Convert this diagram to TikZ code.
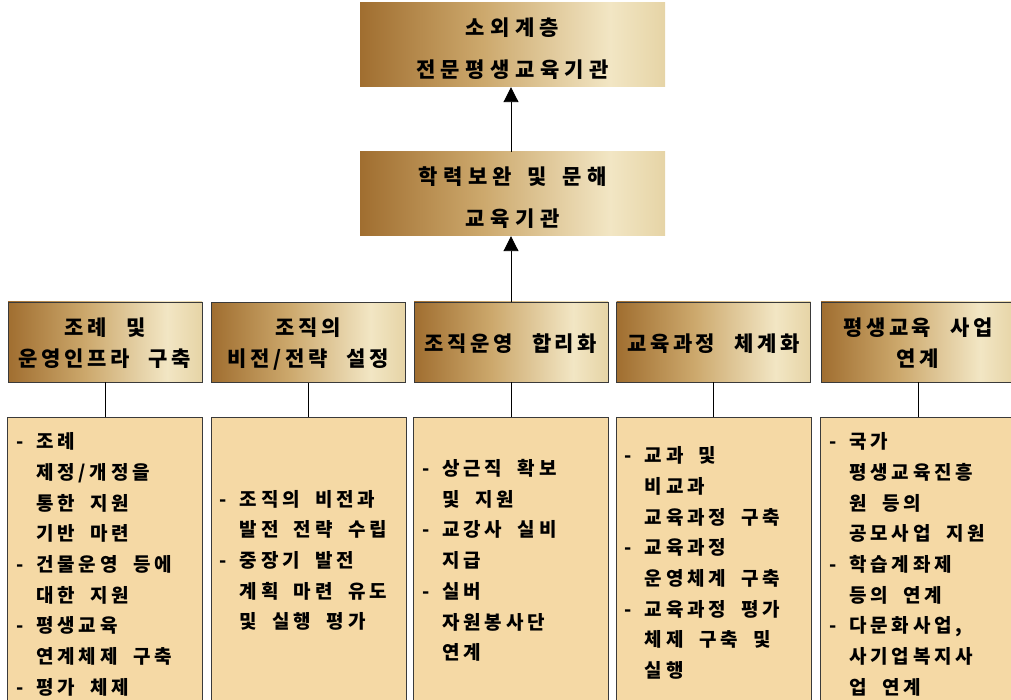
\documentclass[tikz,border=0pt]{standalone}
\usepackage{fontspec}
\usetikzlibrary{arrows.meta}
\newfontfamily\krt{Noto Sans CJK KR}[LetterSpace=26,WordSpace=1.5]
\newfontfamily\krh{Noto Sans CJK KR}[LetterSpace=17,WordSpace=2.3]
\newfontfamily\krc{Noto Sans CJK KR}[LetterSpace=20,WordSpace=1.9]
\definecolor{bronze}{HTML}{A06E30}
\definecolor{midgold}{HTML}{CCA86C}
\definecolor{cream}{HTML}{F2E6C4}
\definecolor{cream2}{HTML}{E6D4A6}
\definecolor{contentfill}{HTML}{F5D9A5}
\definecolor{bordergray}{HTML}{3A3A3A}
\pgfdeclarehorizontalshading{goldsh}{100bp}{color(0bp)=(bronze); color(25bp)=(bronze); color(45bp)=(midgold); color(66bp)=(cream); color(75bp)=(cream2); color(100bp)=(cream2)}
\newcommand\dl[1]{\makebox[18pt][l]{\hspace*{-2pt}-}#1}
\newcommand\cl[1]{\hspace*{18pt}#1}
\begin{document}
\begin{tikzpicture}[x=1pt,y=-1pt,
  topbox/.style={shading=goldsh, minimum width=305pt, minimum height=84pt, inner sep=0pt},
  hdrbox/.style={shading=goldsh, draw=bordergray, line width=0.9pt, minimum width=194pt, minimum height=80pt, inner sep=0pt},
  cntbox/.style={fill=contentfill, draw=bordergray, line width=0.9pt, minimum width=195pt, minimum height=286pt, inner sep=0pt, anchor=north},
  toptxt/.style={inner sep=0pt, align=center, yshift=-4pt, font={\krt\bfseries\fontsize{21}{42}\selectfont}},
  hdrtxt/.style={inner sep=0pt, align=center, yshift=-1.5pt, font={\krh\bfseries\fontsize{21}{31}\selectfont}},
  cnttxt/.style={inner sep=0pt, align=left, anchor=west, font={\krc\bfseries\fontsize{19}{30.7}\selectfont}},
  conn/.style={draw=black, line width=0.9pt},
  arr/.style={conn, -{Triangle[width=15pt,length=15pt]}}]
\useasboundingbox (0,0) rectangle (1011,700);
\clip (0,0) rectangle (1011,700);
% top boxes
\node[topbox] (t1) at (512.5,45) {};
\node[toptxt] (t1t) at (t1.center) {소외계층\\전문평생교육기관};
\node[topbox] (t2) at (512.5,194) {};
\node[toptxt] (t2t) at (t2.center) {학력보완 및 문해\\교육기관};
% header row
\node[hdrbox] (h1) at (105,342) {};
\node[hdrtxt] (h1t) at (h1.center) {조례 및\\운영인프라 구축};
\node[hdrbox] (h2) at (308.5,342.5) {};
\node[hdrtxt] (h2t) at (h2.center) {조직의\\비전/전략 설정};
\node[hdrbox] (h3) at (511,342) {};
\node[hdrtxt] (h3t) at (h3.center) {조직운영 합리화};
\node[hdrbox] (h4) at (713.5,342) {};
\node[hdrtxt] (h4t) at (h4.center) {교육과정 체계화};
\node[hdrbox] (h5) at (918,342) {};
\node[hdrtxt] (h5t) at (h5.center) {평생교육 사업\\연계};
% content boxes
\node[cntbox] (c1) at (105,417) {};
\node[cnttxt] (c1t) at ([xshift=11pt,yshift=-4pt]c1.west) {\dl{조례}\\\cl{제정/개정을}\\\cl{통한 지원}\\\cl{기반 마련}\\\dl{건물운영 등에}\\\cl{대한 지원}\\\dl{평생교육}\\\cl{연계체제 구축}\\\dl{평가 체제}};
\node[cntbox] (c2) at (308.5,417) {};
\node[cnttxt] (c2t) at ([xshift=11pt,yshift=0pt]c2.west) {\dl{조직의 비전과}\\\cl{발전 전략 수립}\\\dl{중장기 발전}\\\cl{계획 마련 유도}\\\cl{및 실행 평가}};
\node[cntbox] (c3) at (511,417) {};
\node[cnttxt] (c3t) at ([xshift=11pt,yshift=0pt]c3.west) {\dl{상근직 확보}\\\cl{및 지원}\\\dl{교강사 실비}\\\cl{지급}\\\dl{실버}\\\cl{자원봉사단}\\\cl{연계}};
\node[cntbox] (c4) at (713.5,417) {};
\node[cnttxt] (c4t) at ([xshift=11pt,yshift=-2.5pt]c4.west) {\dl{교과 및}\\\cl{비교과}\\\cl{교육과정 구축}\\\dl{교육과정}\\\cl{운영체계 구축}\\\dl{교육과정 평가}\\\cl{체제 구축 및}\\\cl{실행}};
\node[cntbox] (c5) at (918,417) {};
\node[cnttxt] (c5t) at ([xshift=11pt,yshift=-4pt]c5.west) {\dl{국가}\\\cl{평생교육진흥}\\\cl{원 등의}\\\cl{공모사업 지원}\\\dl{학습계좌제}\\\cl{등의 연계}\\\dl{다문화사업,}\\\cl{사기업복지사}\\\cl{업 연계}};
% connectors
\foreach \i in {1,...,5} {\draw[conn] (h\i.south) -- (c\i.north);}
\draw[arr] (h3.north) -- (h3.north |- t2.south);
\draw[arr] (h3.north |- t2.north) -- (h3.north |- t1.south);
\end{tikzpicture}
\end{document}
